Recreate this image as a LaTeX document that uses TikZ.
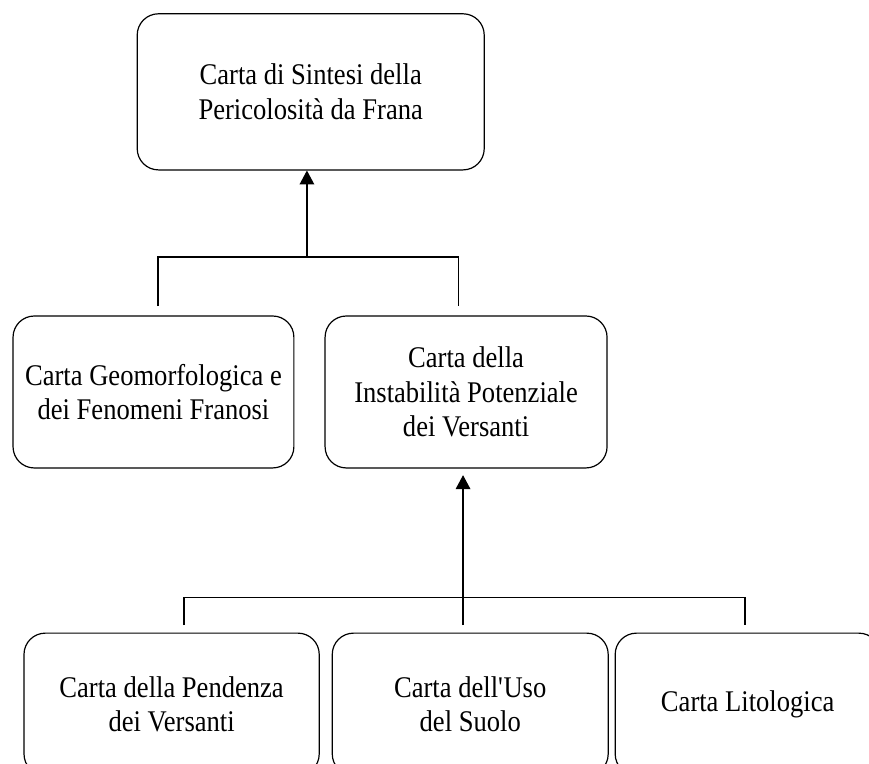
\documentclass[tikz,border=0pt]{standalone}
\usepackage{fontspec}
\setmainfont{Liberation Serif}[FakeStretch=0.885]
\usepackage{tikz}
\usetikzlibrary{arrows.meta}

\begin{document}
\begin{tikzpicture}[
    every node/.style={font=\fontsize{22.6}{26}\selectfont},
    carta/.style={draw, line width=0.9pt, rounded corners=16pt, align=center, inner sep=0pt},
    link/.style={line width=0.9pt},
    uparrow/.style={line width=0.9pt, -{Triangle[length=10.5pt, width=11pt]}}
]

% page frame, the bottom row runs off the edge
\useasboundingbox (0,0) rectangle (22.99,-20.21);
\clip (0,0) rectangle (22.99,-20.21);

% --- TOP: SYNTHESIS MAP ---
\node[carta, minimum width=9.18cm, minimum height=4.13cm] (sintesi) at (8.22,-2.43)
    {Carta di Sintesi della\\Pericolosità da Frana};

% --- MIDDLE ROW ---
\node[carta, minimum width=7.43cm, minimum height=4.02cm] (geomorf) at (4.06,-10.37)
    {Carta Geomorfologica e\\dei Fenomeni Franosi};
\node[carta, minimum width=7.46cm, minimum height=4.02cm] (instab) at (12.33,-10.37)
    {Carta della\\Instabilità Potenziale\\dei Versanti};

% --- BOTTOM ROW ---
\node[carta, minimum width=7.81cm, minimum height=3.76cm] (pendenza) at (4.54,-18.63)
    {Carta della Pendenza\\dei Versanti};
\node[carta, minimum width=7.30cm, minimum height=3.76cm] (uso) at (12.44,-18.63)
    {Carta dell\textquotesingle Uso\\del Suolo};
\node[carta, minimum width=7.01cm, minimum height=3.76cm] (lito) at (19.78,-18.63)
    {Carta Litologica};

% --- CONNECTORS: middle row -> synthesis ---
\coordinate (j1)  at (8.12,-6.80);
\coordinate (j1l) at (4.18,-6.80);
\coordinate (j1r) at (12.12,-6.80);
\coordinate (g1)  at (4.18,-8.10);
\coordinate (i1)  at (12.12,-8.10);
\draw[link] (g1) -- (j1l) -- (j1r) -- (i1);
\draw[uparrow] (j1) -- (j1 |- sintesi.south);

% --- CONNECTORS: bottom row -> instability ---
\coordinate (j2l) at (4.87,-15.80);
\coordinate (j2r) at (19.71,-15.80);
\coordinate (p1)  at (4.87,-16.54);
\coordinate (l1)  at (19.71,-16.54);
\coordinate (u1)  at (12.25,-16.54);
\coordinate (u2)  at (12.25,-12.57);
\draw[link] (p1) -- (j2l) -- (j2r) -- (l1);
\draw[uparrow] (u1) -- (u2);

\end{tikzpicture}
\end{document}
